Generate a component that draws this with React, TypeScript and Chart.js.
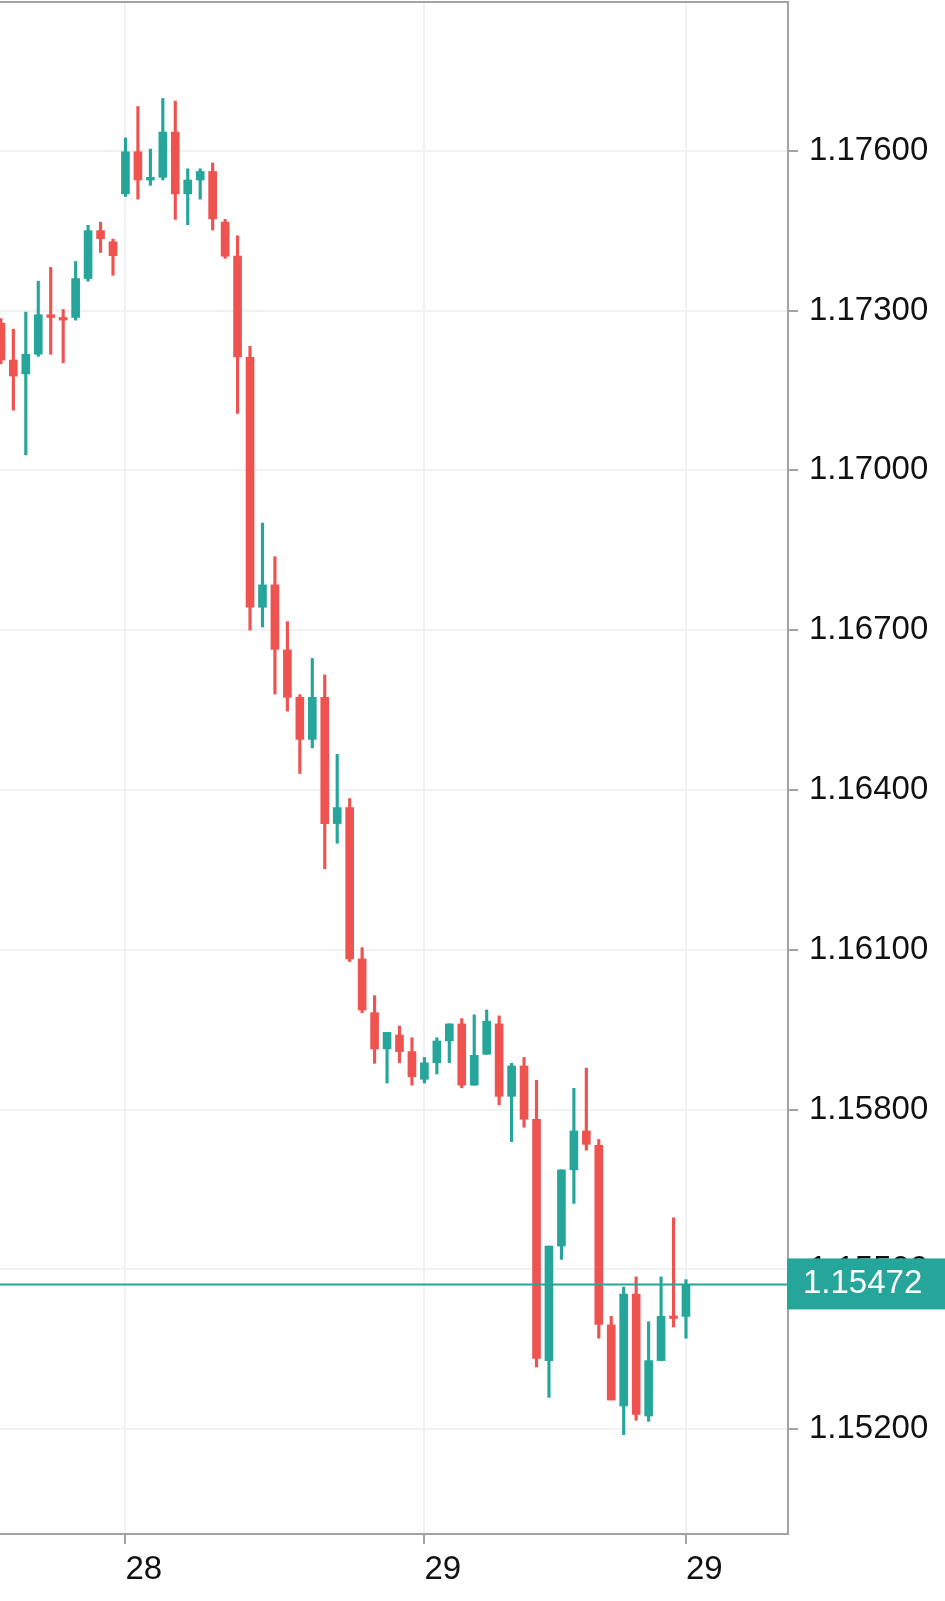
import React, { useEffect, useRef } from "react";
import { Chart, registerables } from "chart.js";

Chart.register(...registerables);

const opens = [
  1.17276, 1.17207, 1.17181, 1.17218, 1.17292, 1.17287, 1.17287, 1.1736, 1.1745, 1.17429,
  1.17519, 1.17598, 1.17545, 1.1755, 1.17635, 1.17519, 1.17545, 1.17561, 1.17466, 1.17402,
  1.17212, 1.16743, 1.16785, 1.16663, 1.16574, 1.16495, 1.16574, 1.16337, 1.16367, 1.16083,
  1.15982, 1.15914, 1.1594, 1.15909, 1.15857, 1.15888, 1.15929, 1.15961, 1.15846, 1.15904,
  1.15961, 1.15825, 1.15882, 1.15782, 1.15329, 1.15544, 1.15687, 1.1576, 1.15733, 1.15396,
  1.15244, 1.15454, 1.15225, 1.15329, 1.15412, 1.15412,
];
const highs = [
  1.17285, 1.17265, 1.17297, 1.17355, 1.17381, 1.17302, 1.17392, 1.1746, 1.17466, 1.17434,
  1.17624, 1.17683, 1.17603, 1.17698, 1.17693, 1.17566, 1.17566, 1.17577, 1.17471, 1.1744,
  1.17233, 1.16901, 1.16838, 1.16716, 1.16579, 1.16647, 1.16616, 1.16467, 1.16384, 1.16104,
  1.16014, 1.15945, 1.15957, 1.15935, 1.15898, 1.15935, 1.15961, 1.15971, 1.15978, 1.15987,
  1.15976, 1.15887, 1.15898, 1.15855, 1.15544, 1.15687, 1.1584, 1.15878, 1.15744, 1.15412,
  1.15467, 1.15486, 1.15402, 1.15486, 1.15597, 1.15481,
];
const lows = [
  1.172, 1.17113, 1.17029, 1.17214, 1.17218, 1.17202, 1.17282, 1.17355, 1.17409, 1.17366,
  1.17514, 1.17509, 1.17535, 1.17545, 1.17471, 1.17461, 1.17509, 1.17451, 1.17398, 1.17107,
  1.167, 1.16706, 1.1658, 1.16548, 1.16431, 1.16479, 1.16252, 1.163, 1.16078, 1.15982,
  1.15887, 1.1585, 1.15888, 1.15846, 1.1585, 1.15867, 1.15888, 1.15841, 1.15846, 1.15904,
  1.15809, 1.1574, 1.15767, 1.15317, 1.1526, 1.15519, 1.15624, 1.15724, 1.15371, 1.15255,
  1.1519, 1.15217, 1.15215, 1.15329, 1.15392, 1.15371,
];
const closes = [
  1.17207, 1.17177, 1.17218, 1.17292, 1.17287, 1.17282, 1.1736, 1.1745, 1.17435, 1.17403,
  1.17598, 1.17545, 1.1755, 1.17635, 1.17519, 1.17545, 1.17561, 1.17472, 1.17402, 1.17213,
  1.16743, 1.16785, 1.16664, 1.16574, 1.16495, 1.16574, 1.16337, 1.16367, 1.16083, 1.15987,
  1.15914, 1.15945, 1.15909, 1.15862, 1.15888, 1.15929, 1.15961, 1.15846, 1.15902, 1.15966,
  1.15825, 1.15882, 1.15782, 1.15333, 1.15544, 1.15687, 1.1576, 1.15735, 1.15397, 1.15255,
  1.15454, 1.15228, 1.15329, 1.15412, 1.15408, 1.15472,
];

const xTickPositions = [10, 34, 55];
const xTickLabels = ["28", "29", "29"];
const yTickValues = [1.152, 1.155, 1.158, 1.161, 1.164, 1.167, 1.17, 1.173, 1.176];
const lastPrice = 1.15472;

const UP = "#26a69a";
const DOWN = "#ef5350";
const GRID = "#f1f1f4";
const BORDER = "#a3a3a3";
const TEXT = "#111111";
const FONT = "Liberation Sans";

const framePlugin = {
  id: "frame",
  afterDatasetsDraw(chart: any) {
    const { ctx, chartArea, scales } = chart;
    const y = scales.y.getPixelForValue(lastPrice);
    ctx.save();
    ctx.strokeStyle = UP;
    ctx.lineWidth = 2;
    ctx.beginPath();
    ctx.moveTo(chartArea.left, y);
    ctx.lineTo(chartArea.right, y);
    ctx.stroke();
    ctx.restore();
  },
  afterDraw(chart: any) {
    const { ctx, chartArea, scales, width } = chart;
    ctx.save();
    ctx.strokeStyle = BORDER;
    ctx.lineWidth = 2;
    ctx.beginPath();
    ctx.moveTo(chartArea.left, chartArea.top);
    ctx.lineTo(chartArea.right + 1, chartArea.top);
    ctx.stroke();
    const y = scales.y.getPixelForValue(lastPrice);
    ctx.fillStyle = UP;
    ctx.fillRect(chartArea.right - 1, y - 26, width - chartArea.right + 1, 51);
    ctx.fillStyle = "#ffffff";
    ctx.font = `33px "${FONT}"`;
    ctx.textBaseline = "middle";
    ctx.textAlign = "left";
    ctx.fillText(lastPrice.toFixed(5), chartArea.right + 15, y);
    ctx.restore();
  },
};

export default function App() {
  const canvasRef = useRef<HTMLCanvasElement | null>(null);

  useEffect(() => {
    if (!canvasRef.current) return;
    const idx = opens.map((_, i) => i);
    const colors = idx.map((i) => (closes[i] >= opens[i] ? UP : DOWN));
    const chart = new Chart(canvasRef.current, {
      type: "bar",
      data: {
        datasets: [
          {
            data: idx.map((i) => ({ x: i, y: [lows[i], highs[i]] })) as any,
            backgroundColor: colors,
            borderWidth: 0,
            barThickness: 2.5,
            grouped: false,
            order: 2,
          } as any,
          {
            data: idx.map((i) => ({ x: i, y: [opens[i], closes[i]] })) as any,
            backgroundColor: colors,
            borderWidth: 0,
            barThickness: 8,
            minBarLength: 2.5,
            grouped: false,
            order: 1,
          } as any,
        ],
      },
      options: {
        animation: false,
        responsive: false,
        layout: { padding: { top: 2, left: 0, right: 0, bottom: 0 } },
        plugins: { legend: { display: false }, tooltip: { enabled: false } },
        scales: {
          x: {
            type: "linear",
            offset: false,
            min: -0.072,
            max: 63.19,
            afterBuildTicks: (s: any) => {
              s.ticks = xTickPositions.map((v) => ({ value: v }));
            },
            ticks: {
              callback: (v: any) => xTickLabels[xTickPositions.indexOf(Number(v))],
              align: "start",
              padding: 6,
              color: TEXT,
              font: { family: FONT, size: 33 },
              maxRotation: 0,
              autoSkip: false,
            },
            grid: {
              offset: false,
              color: GRID,
              lineWidth: 2,
              tickLength: 10,
              tickColor: BORDER,
              tickWidth: 2,
            },
            border: { color: BORDER, width: 2 },
            afterFit: (s: any) => {
              s.height = 67;
              s.paddingLeft = 0;
              s.paddingRight = 0;
            },
          } as any,
          y: {
            position: "right",
            offset: false,
            min: 1.150035,
            max: 1.178791,
            afterBuildTicks: (s: any) => {
              s.ticks = yTickValues.map((v) => ({ value: v }));
            },
            ticks: {
              callback: (v: any) => Number(v).toFixed(5),
              padding: 11,
              color: TEXT,
              font: { family: FONT, size: 33 },
            },
            grid: { color: GRID, lineWidth: 2, tickLength: 10, tickColor: BORDER, tickWidth: 2 },
            border: { color: BORDER, width: 2 },
            afterFit: (s: any) => {
              s.width = 157;
              s.paddingTop = 0;
              s.paddingBottom = 0;
            },
          } as any,
        },
      },
      plugins: [framePlugin],
    });
    return () => chart.destroy();
  }, []);

  return (
    <div style={{ position: "absolute", left: 0, top: 0, width: 945, height: 1601, background: "#ffffff" }}>
      <canvas ref={canvasRef} width={945} height={1601} style={{ display: "block" }} />
    </div>
  );
}
